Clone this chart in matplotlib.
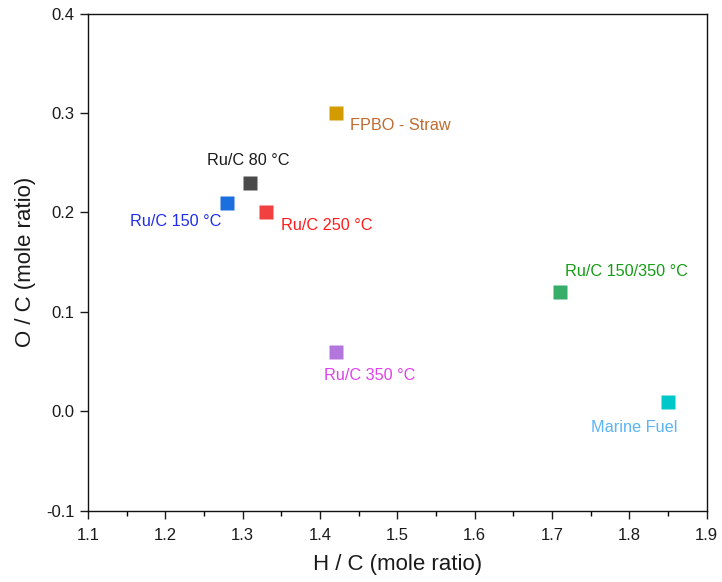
import matplotlib
matplotlib.use("Agg")
import matplotlib.pyplot as plt
from matplotlib.ticker import MultipleLocator

plt.rcParams["font.family"] = ["Liberation Sans", "DejaVu Sans"]

# Van Krevelen style data: H/C vs O/C mole ratios
labels = ["FPBO - Straw", "Ru/C 80 °C", "Ru/C 150 °C", "Ru/C 250 °C",
          "Ru/C 150/350 °C", "Ru/C 350 °C", "Marine Fuel"]
h_c = [1.42, 1.31, 1.28, 1.33, 1.71, 1.42, 1.85]
o_c = [0.30, 0.23, 0.21, 0.20, 0.12, 0.06, 0.01]
marker_colors = ["#d29b00", "#4a4a4a", "#1b6fdf", "#f04040",
                 "#36ad69", "#b276dd", "#00c8c8"]
text_colors = ["#bf6a2e", "#1a1a1a", "#1f2fe8", "#ff1a1a",
               "#169c16", "#e040f0", "#5ab4f5"]
# label offsets in pixels and alignment
offsets = [(14, -12, "left"), (-2, 22, "center"), (-6, -19, "right"),
           (15, -13, "left"), (5, 21, "left"), (-12, -24, "left"),
           (9, -26, "right")]

fig = plt.figure(figsize=(7.22, 5.82), dpi=100)
ax = fig.add_axes([0.1219, 0.122, 0.857, 0.8548])

for x, y, mc in zip(h_c, o_c, marker_colors):
    ax.plot(x, y, marker="s", ms=9.4, color=mc, mec="none", ls="none")

for x, y, lab, tc, (dx, dy, ha) in zip(h_c, o_c, labels, text_colors, offsets):
    ax.annotate(lab, (x, y), xytext=(dx, dy), textcoords="offset pixels",
                ha=ha, va="center", color=tc, fontsize=11.7)

ax.set_xlim(1.1, 1.9)
ax.set_ylim(-0.1, 0.4)
ax.xaxis.set_major_locator(MultipleLocator(0.1))
ax.xaxis.set_minor_locator(MultipleLocator(0.05))
ax.yaxis.set_major_locator(MultipleLocator(0.1))
ax.set_xticklabels([f"{v:.1f}" for v in ax.get_xticks()])
ax.set_yticks([-0.1, 0.0, 0.1, 0.2, 0.3, 0.4])
ax.set_yticklabels(["-0.1", "0.0", "0.1", "0.2", "0.3", "0.4"])

ax.tick_params(which="major", direction="out", length=5.8, width=1.0,
               labelsize=12, colors="#1a1a1a", pad=4)
ax.tick_params(axis="x", which="major", pad=6.5)
ax.tick_params(which="minor", direction="out", length=3.4, width=1.0)
ax.tick_params(top=False, right=False)
for sp in ax.spines.values():
    sp.set_linewidth(1.0)
    sp.set_color("#111111")

ax.set_xlabel("H / C (mole ratio)", fontsize=16, color="#1a1a1a", labelpad=8)
ax.set_ylabel("O / C (mole ratio)", fontsize=16, color="#1a1a1a", labelpad=7)

fig.savefig("out.png", dpi=100)
